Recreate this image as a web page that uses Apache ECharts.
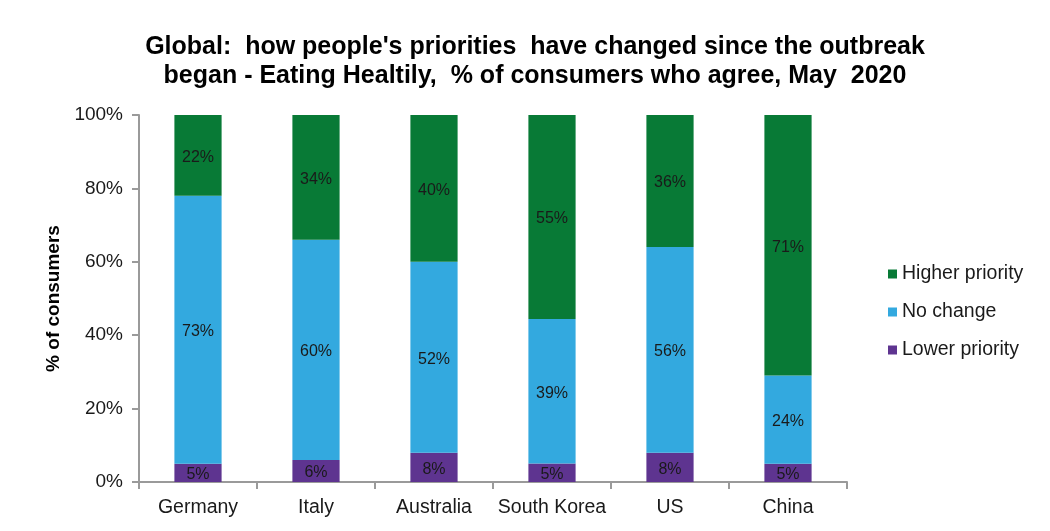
<!DOCTYPE html>
<html><head><meta charset="utf-8">
<script src="https://cdn.jsdelivr.net/npm/echarts@6/dist/echarts.min.js"></script>
<style>html,body{margin:0;padding:0;background:#fff}#c{width:1050px;height:531px}</style>
</head><body><div id="c"></div>
<script>
const categories = ['Germany','Italy','Australia','South Korea','US','China'];
const lowerPriority = [5, 6, 8, 5, 8, 5];
const noChange = [73, 60, 52, 39, 56, 24];
const higherPriority = [22, 34, 40, 55, 36, 71];
const yTicks = ['0%','20%','40%','60%','80%','100%'];

const totals = categories.map((_, i) => lowerPriority[i] + noChange[i] + higherPriority[i]);
const share = arr => arr.map((v, i) => ({ value: v / totals[i] * 100, raw: v }));

const FONT = 'Liberation Sans, Arial, sans-serif';
const labelStyle = {
  show: true, position: 'inside', color: '#1a1a1a', fontSize: 16, fontFamily: FONT,
  offset: [0, 2],
  formatter: p => p.data.raw + '%'
};
const mk = (name, arr, color) => ({
  name, type: 'bar', stack: 'a', barWidth: '40%', data: share(arr),
  itemStyle: { color }, label: labelStyle
});

const chart = echarts.init(document.getElementById('c'));
chart.setOption({
  animation: false,
  title: {
    text: "Global:  how people's priorities  have changed since the outbreak\nbegan - Eating Healtily,  % of consumers who agree, May  2020",
    left: 530, top: 28, textAlign: 'center',
    textStyle: { fontFamily: FONT, fontWeight: 'bold', fontSize: 25, lineHeight: 29, color: '#000' }
  },
  legend: {
    orient: 'vertical', left: 883, top: 259, itemGap: 18, itemWidth: 9, itemHeight: 9,
    icon: 'rect',
    data: ['Higher priority', 'No change', 'Lower priority'],
    textStyle: { fontFamily: FONT, fontSize: 19.5, color: '#1a1a1a' }
  },
  grid: { left: 139, right: 203, top: 115, bottom: 49, containLabel: false },
  xAxis: {
    type: 'category', data: categories,
    axisLine: { lineStyle: { color: '#9a9a9a', width: 2 } },
    axisTick: { show: true, interval: 0, length: 7, lineStyle: { color: '#9a9a9a', width: 2 } },
    axisLabel: { interval: 0, fontFamily: FONT, fontSize: 19.5, color: '#1a1a1a', margin: 16 }
  },
  yAxis: {
    type: 'value', min: 0, max: 100, interval: 20,
    name: '% of consumers', nameLocation: 'middle', nameGap: 73, nameRotate: 90,
    nameTextStyle: { fontFamily: FONT, fontWeight: 'bold', fontSize: 19, color: '#000' },
    axisLine: { show: true, lineStyle: { color: '#9a9a9a', width: 2 } },
    axisTick: { show: true, length: 7, lineStyle: { color: '#9a9a9a', width: 2 } },
    splitLine: { show: false },
    axisLabel: { fontFamily: FONT, fontSize: 19, color: '#1a1a1a', margin: 16,
      formatter: v => yTicks[Math.round(v / 20)] }
  },
  series: [
    mk('Lower priority', lowerPriority, '#5e3490'),
    mk('No change', noChange, '#33a9df'),
    mk('Higher priority', higherPriority, '#087a36')
  ]
});
</script></body></html>
